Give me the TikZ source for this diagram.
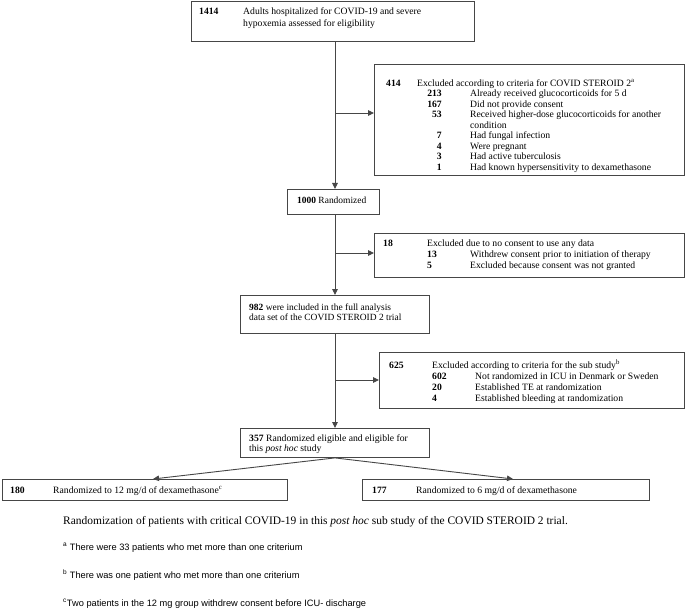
\documentclass[tikz,border=0pt]{standalone}
\usepackage{fontspec}
\setmainfont{Liberation Serif}
\newfontfamily\arialf{Liberation Sans}
\usetikzlibrary{arrows.meta}
\definecolor{lin}{RGB}{70,70,70}
\tikzset{
  boxr/.style={draw=lin, line width=0.9bp, inner sep=0pt, anchor=north west, fill=white},
  conn/.style={draw=lin, line width=0.9bp},
  arr/.style={conn, -{Triangle[length=6bp,width=5.5bp]}},
  tx/.style={anchor=base west, inner sep=0pt, font=\fontsize{9.7}{10.5}\selectfont},
  txs/.style={anchor=base west, inner sep=0pt, font=\fontsize{9.5}{10.5}\selectfont},
  txr/.style={anchor=base east, inner sep=0pt, font=\fontsize{9.7}{10.5}\selectfont\bfseries},
  nb/.style={tx, font=\fontsize{9.7}{10.5}\selectfont\bfseries},
  captxt/.style={anchor=base west, inner sep=0pt, font=\fontsize{11.5}{13}\selectfont},
  fnote/.style={anchor=base west, inner sep=0pt, font=\arialf\fontsize{9.3}{10}\selectfont},
}
\begin{document}
\begin{tikzpicture}[x=1bp,y=-1bp]
\useasboundingbox[fill=white] (0,0) rectangle (685,609);
% boxes
\node[boxr, minimum width=283bp, minimum height=40bp] (n1) at (191,1) {};
\node[boxr, minimum width=310bp, minimum height=111bp] (n2) at (374,64) {};
\node[boxr, minimum width=92bp, minimum height=25bp] (n3) at (287,189) {};
\node[boxr, minimum width=310bp, minimum height=44bp] (n4) at (374,233) {};
\node[boxr, minimum width=189bp, minimum height=38bp] (n5) at (240,295) {};
\node[boxr, minimum width=305bp, minimum height=56bp] (n6) at (379,352) {};
\node[boxr, minimum width=189bp, minimum height=29bp] (n7) at (240,428) {};
\node[boxr, minimum width=285bp, minimum height=21bp] (n8) at (2,479) {};
\node[boxr, minimum width=287bp, minimum height=21bp] (n9) at (362,479) {};
% helper coordinates
\coordinate (spine) at (335,0);
\coordinate (br1) at (335,113);
\coordinate (br2) at (335,253);
\coordinate (br3) at (335,380);
\coordinate (tL) at (153,0);
\coordinate (tR) at (513,0);
% connectors
\draw[arr] (n1.south -| spine) -- (n3.north -| spine);
\draw[arr] (br1) -- (br1 -| n2.west);
\draw[arr] (n3.south -| spine) -- (n5.north -| spine);
\draw[arr] (br2) -- (br2 -| n4.west);
\draw[arr] (n5.south -| spine) -- (n7.north -| spine);
\draw[arr] (br3) -- (br3 -| n6.west);
\draw[arr] (n7.south) -- (n8.north -| tL);
\draw[arr] (n7.south) -- (n9.north -| tR);
% box 1
\node[nb] (t1a) at (199,15) {1414};
\node[tx] (t1b) at (243,15) {Adults hospitalized for COVID-19 and severe};
\node[tx] (t1c) at (243,26.5) {hypoxemia assessed for eligibility};
% box 2
\node[nb] (t2n) at (386,86.5) {414};
\node[tx] (t2t) at (417,86.5) {Excluded according to criteria for COVID STEROID 2\textsuperscript{a}};
\node[txr] (t2n1) at (442,97) {213};
\node[tx] (t2t1) at (470,97) {Already received glucocorticoids for 5 d};
\node[txr] (t2n2) at (442,107.5) {167};
\node[tx] (t2t2) at (470,107.5) {Did not provide consent};
\node[txr] (t2n3) at (442,118) {53};
\node[tx] (t2t3) at (470,118) {Received higher-dose glucocorticoids for another};
\node[tx] (t2t3b) at (470,128.5) {condition};
\node[txr] (t2n4) at (442,139) {7};
\node[tx] (t2t4) at (470,139) {Had fungal infection};
\node[txr] (t2n5) at (442,149.5) {4};
\node[tx] (t2t5) at (470,149.5) {Were pregnant};
\node[txr] (t2n6) at (442,160) {3};
\node[tx] (t2t6) at (470,160) {Had active tuberculosis};
\node[txr] (t2n7) at (442,170.5) {1};
\node[tx] (t2t7) at (470,170.5) {Had known hypersensitivity to dexamethasone};
% box 3
\node[txs] (t3) at (297,204) {\textbf{1000} Randomized};
% box 4
\node[nb] (t4n) at (383,246) {18};
\node[tx] (t4t) at (427,246) {Excluded due to no consent to use any data};
\node[nb] (t4n1) at (427,257) {13};
\node[tx] (t4t1) at (470,257) {Withdrew consent prior to initiation of therapy};
\node[nb] (t4n2) at (427,268) {5};
\node[tx] (t4t2) at (470,268) {Excluded because consent was not granted};
% box 5
\node[txs] (t5a) at (249,310) {\textbf{982} were included in the full analysis};
\node[txs] (t5b) at (249,320.5) {data set of the COVID STEROID 2 trial};
% box 6
\node[nb] (t6n) at (389,368) {625};
\node[tx] (t6t) at (432,368) {Excluded according to criteria for the sub study\textsuperscript{b}};
\node[nb] (t6n1) at (432,379) {602};
\node[tx] (t6t1) at (475,379) {Not randomized in ICU in Denmark or Sweden};
\node[nb] (t6n2) at (432,390) {20};
\node[tx] (t6t2) at (475,390) {Established TE at randomization};
\node[nb] (t6n3) at (432,401) {4};
\node[tx] (t6t3) at (475,401) {Established bleeding at randomization};
% box 7
\node[tx] (t7a) at (249,441) {\textbf{357} Randomized eligible and eligible for};
\node[tx] (t7b) at (249,451.5) {this \textit{post hoc} study};
% box 8, 9
\node[nb] (t8n) at (10,493) {180};
\node[tx] (t8t) at (53,493) {Randomized to 12 mg/d of dexamethasone\textsuperscript{c}};
\node[nb] (t9n) at (372,493) {177};
\node[tx] (t9t) at (416,493) {Randomized to 6 mg/d of dexamethasone};
% caption and footnotes
\node[captxt] (cap) at (63,524) {Randomization of patients with critical COVID-19 in this \textit{post hoc} sub study of the COVID STEROID 2 trial.};
\node[fnote] (fa) at (63,550) {\textsuperscript{a} There were 33 patients who met more than one criterium};
\node[fnote] (fb) at (63,578) {\textsuperscript{b} There was one patient who met more than one criterium};
\node[fnote] (fc) at (63,606) {\textsuperscript{c}Two patients in the 12 mg group withdrew consent before ICU- discharge};
\end{tikzpicture}
\end{document}
